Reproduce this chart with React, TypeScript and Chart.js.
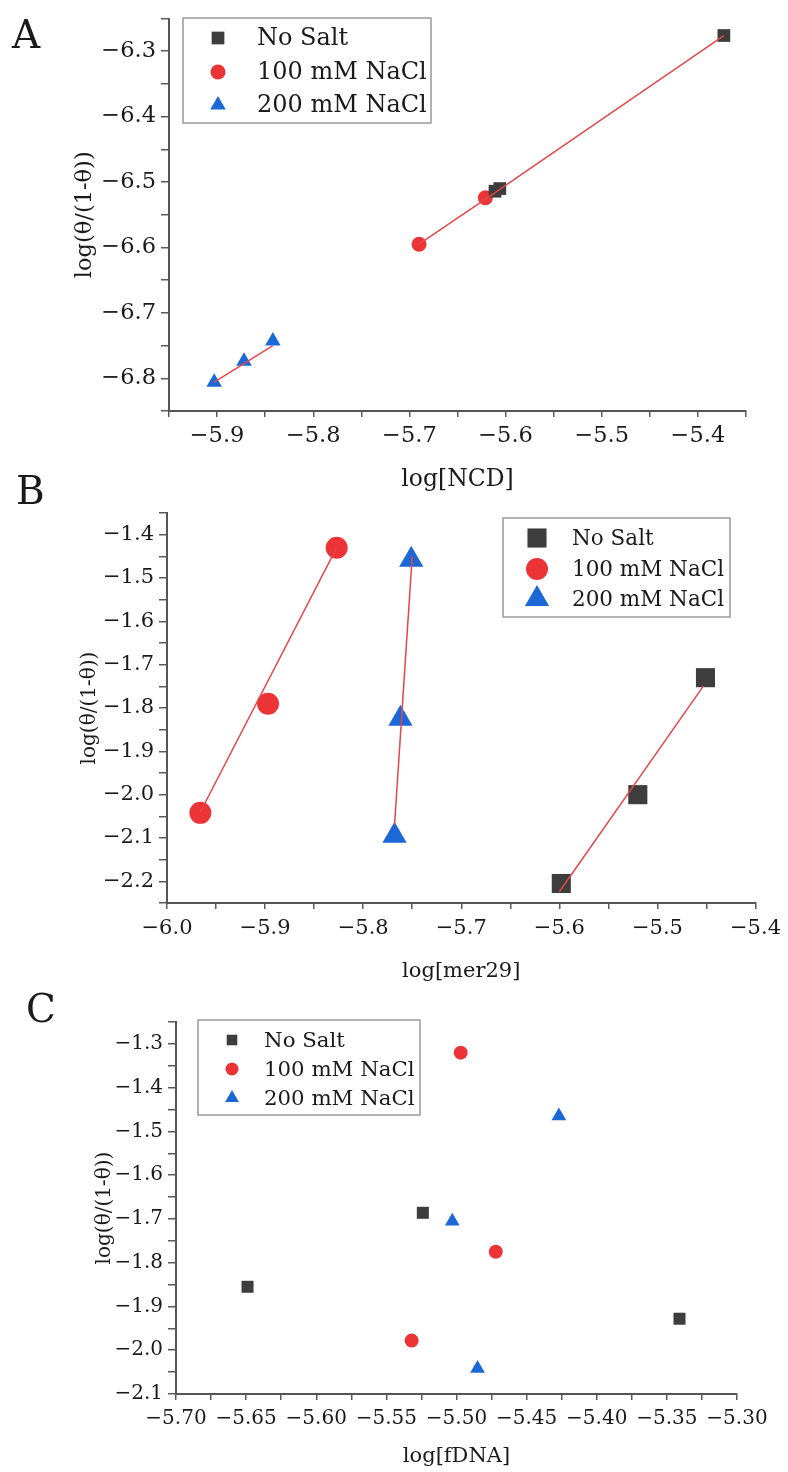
import React, { useEffect, useRef } from 'react';
import { Chart, registerables } from 'chart.js';

Chart.register(...registerables);

// ---------- shared ----------
const SERIES_NAMES = ['No Salt', '100 mM NaCl', '200 mM NaCl'];
const SERIES_COLORS = ['#3d3d3d', '#ec3437', '#1b68d6'];
const SERIES_SHAPES = ['rect', 'circle', 'triangle'];
const FIT_COLOR = '#e2474a';
const Y_TITLE = 'log(θ/(1-θ))';
const FONT_FAMILY = '"DejaVu Serif", serif';
const TEXT_COLOR = '#1a1a1a';

// ---------- Panel A ----------
const A_X_TITLE = 'log[NCD]';
const A_NOSALT_X = [-5.373, -5.606, -5.611];
const A_NOSALT_Y = [-6.276, -6.51, -6.514];
const A_NACL100_X = [-5.69, -5.621];
const A_NACL100_Y = [-6.595, -6.524];
const A_NACL200_X = [-5.903, -5.872, -5.842];
const A_NACL200_Y = [-6.806, -6.774, -6.743];
const A_FIT_NOSALT_X = [-5.611, -5.373];
const A_FIT_NOSALT_Y = [-6.516, -6.276];
const A_FIT_NACL100_X = [-5.69, -5.611];
const A_FIT_NACL100_Y = [-6.595, -6.516];
const A_FIT_NACL200_X = [-5.903, -5.842];
const A_FIT_NACL200_Y = [-6.806, -6.750];
const A_X_RANGE = [-5.95, -5.35];
const A_Y_RANGE = [-6.85, -6.25];

// ---------- Panel B ----------
const B_X_TITLE = 'log[mer29]';
const B_NOSALT_X = [-5.598, -5.52, -5.451];
const B_NOSALT_Y = [-2.205, -2.0, -1.73];
const B_NACL100_X = [-5.966, -5.897, -5.827];
const B_NACL100_Y = [-2.042, -1.79, -1.43];
const B_NACL200_X = [-5.768, -5.762, -5.751];
const B_NACL200_Y = [-2.095, -1.825, -1.458];
const B_FIT_NOSALT_X = [-5.6, -5.453];
const B_FIT_NOSALT_Y = [-2.224, -1.749];
const B_FIT_NACL100_X = [-5.966, -5.827];
const B_FIT_NACL100_Y = [-2.04, -1.43];
const B_FIT_NACL200_X = [-5.768, -5.750];
const B_FIT_NACL200_Y = [-2.069, -1.45];
const B_X_RANGE = [-6.0, -5.4];
const B_Y_RANGE = [-2.25, -1.35];

// ---------- Panel C ----------
const C_X_TITLE = 'log[fDNA]';
const C_NOSALT_X = [-5.649, -5.524, -5.341];
const C_NOSALT_Y = [-1.855, -1.686, -1.928];
const C_NACL100_X = [-5.497, -5.472, -5.532];
const C_NACL100_Y = [-1.32, -1.775, -1.978];
const C_NACL200_X = [-5.427, -5.503, -5.485];
const C_NACL200_Y = [-1.465, -1.705, -2.042];
const C_X_RANGE = [-5.7, -5.3];
const C_Y_RANGE = [-2.1, -1.25];

const pts = (xs: number[], ys: number[]) => xs.map((x, i) => ({ x, y: ys[i] }));

type Box = { x: number; y: number; w: number; h: number };
type PanelDef = {
  letter: string;
  letterPos: { left: number; top: number };
  top: number;
  height: number;
  area: { left: number; right: number; top: number; bottom: number };
  fonts: { tick: number; xTitle: number; yTitle: number; legend: number };
  xTickPad: number;
  yTitleX: number;
  xTitleY: number;
  xTitle: string;
  xRange: number[];
  yRange: number[];
  xStep: number;
  xLabelMult: number;
  xDecimals: number;
  series: { x: number[]; y: number[] }[];
  fits: { x: number[]; y: number[] }[];
  radii: number[];
  legend: { box: Box; rows: number[]; markerX: number; textX: number; radii: number[] };
};

const PANELS: PanelDef[] = [
  {
    letter: 'A',
    letterPos: { left: 12, top: 15 },
    top: 0,
    height: 495,
    area: { left: 169, right: 746, top: 15, bottom: 411 },
    fonts: { tick: 22.5, xTitle: 23.5, yTitle: 22.5, legend: 24 },
    xTickPad: 6,
    yTitleX: 85,
    xTitleY: 480,
    xTitle: A_X_TITLE,
    xRange: A_X_RANGE,
    yRange: A_Y_RANGE,
    xStep: 0.05,
    xLabelMult: 10,
    xDecimals: 1,
    series: [
      { x: A_NOSALT_X, y: A_NOSALT_Y },
      { x: A_NACL100_X, y: A_NACL100_Y },
      { x: A_NACL200_X, y: A_NACL200_Y },
    ],
    fits: [
      { x: A_FIT_NOSALT_X, y: A_FIT_NOSALT_Y },
      { x: A_FIT_NACL100_X, y: A_FIT_NACL100_Y },
      { x: A_FIT_NACL200_X, y: A_FIT_NACL200_Y },
    ],
    radii: [9, 7.5, 9],
    legend: { box: { x: 183, y: 18, w: 248, h: 105 }, rows: [38, 72, 105], markerX: 218, textX: 257, radii: [9, 7.5, 9] },
  },
  {
    letter: 'B',
    letterPos: { left: 16, top: 471 },
    top: 495,
    height: 495,
    area: { left: 167, right: 757, top: 513, bottom: 903 },
    fonts: { tick: 21, xTitle: 21, yTitle: 20, legend: 21.5 },
    xTickPad: 7,
    yTitleX: 90,
    xTitleY: 972,
    xTitle: B_X_TITLE,
    xRange: B_X_RANGE,
    yRange: B_Y_RANGE,
    xStep: 0.05,
    xLabelMult: 10,
    xDecimals: 1,
    series: [
      { x: B_NOSALT_X, y: B_NOSALT_Y },
      { x: B_NACL100_X, y: B_NACL100_Y },
      { x: B_NACL200_X, y: B_NACL200_Y },
    ],
    fits: [
      { x: B_FIT_NOSALT_X, y: B_FIT_NOSALT_Y },
      { x: B_FIT_NACL100_X, y: B_FIT_NACL100_Y },
      { x: B_FIT_NACL200_X, y: B_FIT_NACL200_Y },
    ],
    radii: [13.5, 11, 14],
    legend: { box: { x: 503, y: 518, w: 227, h: 99 }, rows: [538, 569, 599], markerX: 537, textX: 572, radii: [13.5, 11, 14] },
  },
  {
    letter: 'C',
    letterPos: { left: 26, top: 989 },
    top: 990,
    height: 482,
    area: { left: 176, right: 737, top: 1022, bottom: 1394 },
    fonts: { tick: 20, xTitle: 21, yTitle: 20, legend: 21.3 },
    xTickPad: 7,
    yTitleX: 105,
    xTitleY: 1457,
    xTitle: C_X_TITLE,
    xRange: C_X_RANGE,
    yRange: C_Y_RANGE,
    xStep: 0.025,
    xLabelMult: 20,
    xDecimals: 2,
    series: [
      { x: C_NOSALT_X, y: C_NOSALT_Y },
      { x: C_NACL100_X, y: C_NACL100_Y },
      { x: C_NACL200_X, y: C_NACL200_Y },
    ],
    fits: [],
    radii: [8.5, 7, 8.5],
    legend: { box: { x: 198, y: 1020, w: 222, h: 95 }, rows: [1040, 1069, 1098], markerX: 232, textX: 264, radii: [7.5, 6.5, 8] },
  },
];

function drawMarker(ctx: CanvasRenderingContext2D, shape: string, x: number, y: number, r: number) {
  ctx.beginPath();
  if (shape === 'rect') {
    const s = Math.SQRT1_2 * r;
    ctx.rect(x - s, y - s, 2 * s, 2 * s);
  } else if (shape === 'circle') {
    ctx.arc(x, y, r, 0, Math.PI * 2);
  } else {
    const a = (Math.PI * 2) / 3;
    ctx.moveTo(x, y - r);
    ctx.lineTo(x + Math.sin(a) * r, y - Math.cos(a) * r);
    ctx.lineTo(x - Math.sin(a) * r, y - Math.cos(a) * r);
    ctx.closePath();
  }
  ctx.fill();
}

const legendBoxPlugin = {
  id: 'legendBox',
  afterDraw(chart: any, _args: any, opts: any) {
    if (!opts || !opts.box) return;
    const ctx: CanvasRenderingContext2D = chart.ctx;
    const { box, rows, markerX, textX, radii, fontSize } = opts;
    ctx.save();
    ctx.fillStyle = '#ffffff';
    ctx.fillRect(box.x, box.y, box.w, box.h);
    ctx.strokeStyle = '#9a9a9a';
    ctx.lineWidth = 1.5;
    ctx.strokeRect(box.x, box.y, box.w, box.h);
    ctx.font = `${fontSize}px ${FONT_FAMILY}`;
    ctx.textBaseline = 'middle';
    ctx.textAlign = 'left';
    SERIES_NAMES.forEach((name, i) => {
      ctx.fillStyle = SERIES_COLORS[i];
      drawMarker(ctx, SERIES_SHAPES[i], markerX, rows[i], radii[i]);
      ctx.fillStyle = TEXT_COLOR;
      ctx.fillText(name, textX, rows[i] + 1);
    });
    ctx.restore();
  },
};

const fmt = (v: number, dec: number) => (v < 0 ? '\u2212' : '') + Math.abs(v).toFixed(dec);
const isMult = (v: number, m: number) => Math.abs(Math.round(v * m) - v * m) < 1e-6;

function Panel({ p }: { p: PanelDef }) {
  const ref = useRef<HTMLCanvasElement>(null);
  useEffect(() => {
    if (!ref.current) return;
    const lhY = p.fonts.yTitle * 1.2;
    const lhX = p.fonts.xTitle * 1.2;
    const padLeft = p.yTitleX - lhY / 2;
    const yAxisW = p.area.left - padLeft;
    const padTop = p.area.top - p.top;
    const padRight = 788 - p.area.right;
    const chartBottom = p.area.bottom - p.top;
    const xAxisH = p.xTitleY + lhX / 2 - p.area.bottom;
    const padBottom = p.height - chartBottom - xAxisH;

    const datasets: any[] = [];
    p.fits.forEach((f) => {
      datasets.push({
        type: 'scatter',
        data: pts(f.x, f.y),
        showLine: true,
        borderColor: FIT_COLOR,
        borderWidth: 1.5,
        pointRadius: 0,
        fill: false,
        order: 0,
        clip: false,
      });
    });
    p.series.forEach((s, i) => {
      datasets.push({
        type: 'scatter',
        label: SERIES_NAMES[i],
        data: pts(s.x, s.y),
        pointStyle: SERIES_SHAPES[i],
        pointRadius: p.radii[i],
        pointBackgroundColor: SERIES_COLORS[i],
        pointBorderColor: SERIES_COLORS[i],
        pointBorderWidth: 0,
        order: 1,
        clip: false,
      });
    });

    const tickFont = { family: FONT_FAMILY, size: p.fonts.tick };
    const grid = { display: true, drawOnChartArea: false, drawTicks: true, tickLength: 7, color: '#5a5a5a', lineWidth: 1.5 };
    const border = { display: true, color: '#555', width: 2 };
    const legendOpts = {
      box: { ...p.legend.box, y: p.legend.box.y - p.top },
      rows: p.legend.rows.map((r) => r - p.top),
      markerX: p.legend.markerX,
      textX: p.legend.textX,
      radii: p.legend.radii,
      fontSize: p.fonts.legend,
    };

    const chart = new Chart(ref.current, {
      type: 'scatter',
      data: { datasets },
      plugins: [legendBoxPlugin],
      options: {
        animation: false,
        responsive: false,
        maintainAspectRatio: false,
        devicePixelRatio: 1,
        events: [],
        layout: { padding: { left: padLeft, right: padRight, top: padTop, bottom: padBottom } },
        plugins: {
          legend: { display: false },
          tooltip: { enabled: false },
          legendBox: legendOpts,
        } as any,
        scales: {
          x: {
            type: 'linear',
            min: p.xRange[0],
            max: p.xRange[1],
            afterFit: (s: any) => {
              s.height = xAxisH;
            },
            ticks: {
              stepSize: p.xStep,
              autoSkip: false,
              maxRotation: 0,
              minRotation: 0,
              padding: p.xTickPad,
              color: TEXT_COLOR,
              font: tickFont,
              callback: (v: any) => (isMult(Number(v), p.xLabelMult) ? fmt(Number(v), p.xDecimals) : ''),
            },
            grid: { ...grid, tickLength: 6 },
            border,
            title: {
              display: true,
              text: p.xTitle,
              color: TEXT_COLOR,
              font: { family: FONT_FAMILY, size: p.fonts.xTitle },
              padding: 0,
            },
          },
          y: {
            type: 'linear',
            min: p.yRange[0],
            max: p.yRange[1],
            afterFit: (s: any) => {
              s.width = yAxisW;
            },
            ticks: {
              stepSize: 0.05,
              autoSkip: false,
              padding: 5,
              color: TEXT_COLOR,
              font: tickFont,
              callback: (v: any) => (isMult(Number(v), 10) ? fmt(Number(v), 1) : ''),
            },
            grid: { ...grid, tickLength: 8 },
            border,
            title: {
              display: true,
              text: Y_TITLE,
              color: TEXT_COLOR,
              font: { family: FONT_FAMILY, size: p.fonts.yTitle },
              padding: 0,
            },
          },
        },
      } as any,
    });
    return () => chart.destroy();
  }, [p]);

  return (
    <canvas
      ref={ref}
      width={788}
      height={p.height}
      style={{ position: 'absolute', left: 0, top: p.top, width: 788, height: p.height, display: 'block' }}
    />
  );
}

export default function App() {
  return (
    <div style={{ position: 'absolute', left: 0, top: 0, width: 788, height: 1472, background: '#fff', overflow: 'hidden' }}>
      {PANELS.map((p) => (
        <Panel key={p.letter} p={p} />
      ))}
      {PANELS.map((p) => (
        <div
          key={'l' + p.letter}
          style={{
            position: 'absolute',
            left: p.letterPos.left,
            top: p.letterPos.top,
            fontFamily: FONT_FAMILY,
            fontSize: 39,
            lineHeight: '39px',
            color: TEXT_COLOR,
          }}
        >
          {p.letter}
        </div>
      ))}
    </div>
  );
}
